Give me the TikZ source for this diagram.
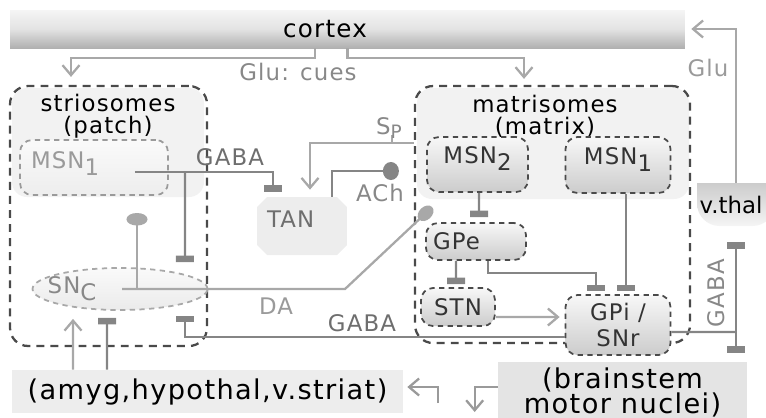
\documentclass[tikz,border=0pt]{standalone}
\usepackage{fontspec}
\newfontfamily\figfont[LetterSpace=5]{DejaVu Sans}
\newfontfamily\thalfont{DejaVu Sans}
\usetikzlibrary{arrows.meta,positioning,calc,shapes.geometric,shapes.misc}
\definecolor{lnlite}{HTML}{A8A8A8}
\definecolor{lndark}{HTML}{858585}
\definecolor{edgedark}{HTML}{4A4A4A}
\definecolor{txtmid}{HTML}{888888}
\definecolor{txtlite}{HTML}{9A9A9A}
\definecolor{txtdark}{HTML}{6E6E6E}
\newcommand\lowsub[1]{\raisebox{-0.3em}{#1}}

\begin{document}
\begin{tikzpicture}[x=0.02cm,y=-0.02cm,
	lbl/.style={font=\figfont\fontsize{13}{15}\selectfont, inner sep=0pt},
	ttl/.style={lbl, font=\figfont\fontsize{13}{12.5}\selectfont, align=center, text=black},
	note/.style={lbl, text=txtmid},
	biglbl/.style={font=\figfont\fontsize{15.5}{14.2}\selectfont, inner sep=0pt, text=black},
	grpbox/.style={draw=edgedark, line width=1.3pt, dash pattern=on 4.5pt off 3.5pt, rounded corners=0.36cm, inner sep=0pt},
	cell/.style={lbl, draw=edgedark, line width=1pt, dash pattern=on 3pt off 2.5pt, rounded corners=0.24cm, top color=gray!6, bottom color=gray!40, text=black!80},
	pcell/.style={cell, draw=txtlite, top color=gray!4, bottom color=gray!14, text=txtlite},
	exc/.style={draw=lnlite, line width=1.3pt, -{Straight Barb[length=2mm,width=3.4mm]}},
	inh/.style={draw=lndark, line width=1.3pt, -{Rectangle[length=1.3mm,width=3.6mm]}},
	daline/.style={draw=lnlite, line width=1.3pt, -{Circle[length=3.6mm,width=2.6mm]}},
	dastem/.style={draw=lnlite, line width=1.3pt, -{Circle[length=2.5mm,width=4.2mm]}},
	achline/.style={draw=lndark, line width=1.3pt, -{Circle[length=3.2mm,width=3.6mm]}}]
	\useasboundingbox (0,0) rectangle (766,417);

	% shaded tops of the compartments
	\fill[gray!10, rounded corners=0.3cm] (12,88) rectangle (204,197);
	\fill[gray!10, rounded corners=0.3cm] (417,88) rectangle (689,199);
	% v.thal bowl
	\shade[top color=gray!40, bottom color=gray!8] (775,183) -- (697,183) [rounded corners=0.45cm] -- (697,226) -- (775,226) [sharp corners] -- cycle;

	\node[lbl, font=\figfont\fontsize{14}{15}\selectfont, text=black, top color=gray!8, bottom color=gray!62, middle color=gray!22,
		minimum width=13.5cm, minimum height=0.76cm] (cortex) at (347.5,29) {cortex\hspace*{0.9cm}};

	\node[grpbox, minimum width=3.94cm, minimum height=5.2cm] (strio) at (108.5,216) {};
	\node[grpbox, minimum width=5.5cm, minimum height=5.14cm] (matr) at (552.5,214.5) {};
	\node[ttl] (striott) at (108,116) {striosomes\\(patch)};
	\node[ttl] (matrtt) at (545,116) {matrisomes\\(matrix)};

	\node[pcell, minimum width=2.96cm, minimum height=1.1cm, text width=2.52cm, align=left, text depth=0.3cm] (msnp) at (94,167.5) {MSN\lowsub{1}};
	\node[cell, minimum width=2.02cm, minimum height=1.1cm, text depth=0.36cm] (msn2) at (477.5,164.5) {MSN\lowsub{2}};
	\node[cell, minimum width=2.1cm, minimum height=1.12cm, text depth=0.36cm] (msn1m) at (618,165) {MSN\lowsub{1}};
	\node[cell, minimum width=2cm, minimum height=0.74cm, text width=1.72cm, align=left] (gpe) at (476,241.5) {GPe};
	\node[cell, minimum width=1.48cm, minimum height=0.76cm] (stn) at (458,307) {STN};
	\node[cell, minimum width=2.1cm, minimum height=1.2cm, align=center] (gpi) at (618,325) {GPi /\\SNr};

	\node[lbl, chamfered rectangle, chamfered rectangle xsep=0.1cm, chamfered rectangle ysep=0.1cm, fill=gray!14, text=txtdark,
		minimum width=1.8cm, minimum height=1.16cm, text width=1.4cm, align=left, text depth=0.28cm] (tan) at (302,226) {TAN};

	\node[ellipse, draw=lnlite, line width=1pt, dash pattern=on 3pt off 2.5pt, top color=gray!4, bottom color=gray!16,
		minimum width=3.5cm, minimum height=0.84cm, inner sep=0pt] (snc) at (120,289) {};
	\node[lbl, text=txtmid] (snclbl) at ([xshift=-0.96cm]snc.center) {SN\lowsub{C}};

	\node[inner sep=0pt, font=\thalfont\fontsize{13}{15}\selectfont, text=black, minimum width=1.56cm, minimum height=0.86cm] (vthal) at (731,204.5) {v.thal};

	\node[biglbl, fill=gray!14, minimum width=7.82cm, minimum height=0.86cm] (amyg) at (207.5,391.5) {(amyg,hypothal,v.striat)};
	\node[biglbl, fill=gray!21, minimum width=4.98cm, minimum height=1.2cm, align=center] (brainstem) at (622.5,392) {(brainstem\\motor nuclei)};

	% cortical and thalamic glutamate
	\draw[exc] ([xshift=-0.65cm]cortex.south) -- ++(0,10) -| ([xshift=-0.75cm,yshift=0.16cm]strio.north);
	\draw[exc] (cortex.south) -- ++(0,10) -| ([xshift=-0.57cm,yshift=0.12cm]matr.north);
	\draw[exc] ([xshift=0.1cm]vthal.north) |- ([xshift=0.12cm]cortex.east);

	% striosomal output
	\coordinate (gabasplit) at ([xshift=1.82cm,yshift=-0.09cm]msnp.center);
	\draw[inh] ([xshift=0.82cm,yshift=-0.09cm]msnp.center) -| ([xshift=-0.58cm,yshift=0.1cm]tan.north);
	\draw[inh] (gabasplit) -- ([xshift=1.3cm,yshift=0.1cm]snc.north);

	% Sp and ACh
	\draw[exc] ([yshift=1.43cm]matr.west) -| ([xshift=0.16cm,yshift=0.14cm]tan.north);
	\draw[draw=lnlite, line width=1.3pt] ([xshift=-0.44cm,yshift=1.43cm]matr.west) -- ++(0,-8);
	\draw[achline] ([xshift=0.6cm]tan.north) |- ([xshift=-0.3cm,yshift=0.87cm]matr.west);

	% DA
	\draw[daline] ([xshift=0.04cm]snc.center) -- ++(223,0) -- ([xshift=0.14cm,yshift=0.3cm]gpe.north west);
	\draw[dastem] ([xshift=0.34cm]snc.center) -- ++(0,-76);

	% matrix pathways
	\draw[inh] ([xshift=0.03cm]msn2.south) -- ([xshift=0.06cm,yshift=0.1cm]gpe.north);
	\draw[inh] ([xshift=0.16cm]msn1m.south) -- ([xshift=0.16cm,yshift=0.06cm]gpi.north);
	\draw[inh] ([xshift=-0.4cm]gpe.south) -- ([xshift=-0.04cm,yshift=0.06cm]stn.north);
	\draw[inh] ([xshift=0.24cm]gpe.south) -- ++(0,12) -| ([xshift=-0.44cm,yshift=0.06cm]gpi.north);
	\draw[exc] ([yshift=-0.2cm]stn.east) -- ([xshift=-0.1cm,yshift=0.16cm]gpi.west);

	% GPi/SNr output
	\draw[inh] ([yshift=-0.24cm]gpi.west) -| ([xshift=1.3cm,yshift=-0.1cm]snc.south);
	\coordinate (gpisplit) at ($(gpi.east -| vthal.south)+(5,7)$);
	\draw[draw=lndark, line width=1.3pt] ([yshift=-0.14cm]gpi.east) -- (gpisplit);
	\draw[inh] (gpisplit) -- ($(gpisplit |- vthal.south)+(0,16)$);
	\draw[inh] (gpisplit) -- ($(gpisplit |- brainstem.north)+(0,-9)$);

	% limbic inputs
	\draw[exc] ([xshift=-2.69cm]amyg.north) -- ([xshift=-0.94cm,yshift=-0.16cm]snc.south);
	\draw[inh] ([xshift=-2.01cm]amyg.north) -- ([xshift=-0.26cm,yshift=-0.14cm]snc.south);
	\draw[exc, draw=txtlite] ([xshift=0.7cm,yshift=-0.23cm]amyg.east) |- ([xshift=0.08cm,yshift=0.09cm]amyg.east);
	\draw[exc, draw=txtlite] ([yshift=0.1cm]brainstem.west) -| ([xshift=-0.46cm,yshift=-0.4cm]brainstem.west);

	% labels
	\node[note] (glucues) at (298,72) {Glu: cues};
	\node[note, text=txtdark] (gabaup) at (230,157) {GABA};
	\node[note] (sp) at (389,128) {S\raisebox{-0.15em}{\fontsize{10.5}{12}\selectfont P}};
	\node[note] (ach) at (380,193) {ACh};
	\node[note, text=txtlite] (da) at (276,306) {DA};
	\node[note, text=txtdark] (gabalow) at (362,323) {GABA};
	\node[note, text=txtlite] (glu) at (708,68) {Glu};
	\node[note, rotate=90] (gabaout) at (716,293) {GABA};
\end{tikzpicture}
\end{document}
